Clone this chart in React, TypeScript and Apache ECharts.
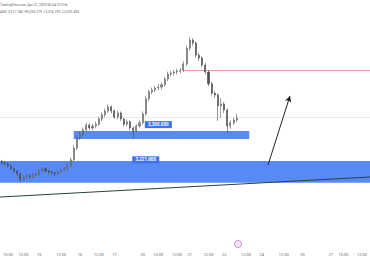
import React, { useEffect, useRef } from "react";
import * as echarts from "echarts";

// OHLC rows: [open, close, low, high]
const candles: number[][] = [
  [3243, 3240, 3236, 3247], [3240, 3238, 3233, 3244], [3238, 3234, 3230, 3241], [3234, 3228, 3225, 3237],
  [3228, 3223, 3219, 3231], [3223, 3217, 3212, 3226], [3217, 3204, 3199, 3219], [3204, 3211, 3201, 3214],
  [3211, 3213, 3207, 3217], [3213, 3211, 3206, 3216], [3211, 3215, 3208, 3219], [3215, 3215, 3210, 3220],
  [3215, 3223, 3213, 3227], [3223, 3228, 3220, 3232], [3228, 3223, 3219, 3231], [3223, 3221, 3216, 3226],
  [3221, 3219, 3214, 3224], [3219, 3217, 3212, 3222], [3217, 3221, 3214, 3225], [3221, 3225, 3218, 3229],
  [3225, 3228, 3222, 3232], [3228, 3234, 3225, 3239], [3234, 3247, 3231, 3252], [3247, 3272, 3244, 3278],
  [3272, 3294, 3268, 3299], [3294, 3302, 3289, 3308], [3302, 3311, 3297, 3316], [3311, 3321, 3306, 3326],
  [3321, 3315, 3311, 3325], [3315, 3319, 3310, 3324], [3319, 3323, 3314, 3329], [3323, 3334, 3319, 3339],
  [3334, 3343, 3329, 3348], [3343, 3351, 3338, 3356], [3351, 3360, 3347, 3365], [3360, 3351, 3346, 3363],
  [3351, 3338, 3334, 3355], [3338, 3347, 3333, 3352], [3347, 3334, 3330, 3350], [3334, 3323, 3318, 3337],
  [3323, 3328, 3318, 3333], [3328, 3315, 3310, 3331], [3315, 3309, 3293, 3318], [3309, 3319, 3305, 3323],
  [3319, 3326, 3315, 3331], [3326, 3345, 3322, 3350], [3345, 3377, 3341, 3383], [3377, 3392, 3372, 3397],
  [3392, 3396, 3387, 3401], [3396, 3400, 3391, 3405], [3400, 3402, 3395, 3408], [3402, 3407, 3397, 3412],
  [3407, 3419, 3403, 3424], [3419, 3430, 3415, 3435], [3430, 3432, 3425, 3437], [3432, 3434, 3427, 3439],
  [3434, 3436, 3429, 3441], [3436, 3438, 3431, 3443], [3438, 3451, 3434, 3457], [3451, 3485, 3447, 3490],
  [3485, 3502, 3480, 3508], [3502, 3496, 3490, 3506], [3496, 3470, 3465, 3499], [3470, 3464, 3458, 3475],
  [3464, 3449, 3444, 3468], [3449, 3434, 3429, 3453], [3434, 3409, 3404, 3438], [3409, 3389, 3384, 3413],
  [3389, 3385, 3379, 3393], [3385, 3362, 3330, 3389], [3362, 3366, 3336, 3379], [3366, 3353, 3347, 3370],
  [3353, 3319, 3304, 3357], [3319, 3326, 3313, 3331], [3326, 3332, 3321, 3337], [3332, 3336, 3327, 3345],
];

const slotCount = 117;

const tickIndex = [2, 7, 12, 19, 25, 31, 36, 45, 50, 56, 60, 66, 71, 78, 83, 90, 96, 105, 109, 115];
const tickText = ["15:00", "12:00", "15", "12:00", "16", "12:00", "17", "20", "15:00", "12:00", "21", "12:00", "22", "12:00", "24", "12:00", "25", "27", "15:00", "12:00"];

const upperZone = { from: 23, to: 79, low: 3291.5, high: 3308.5, label: "3,300.000", labelAt: 50, labelPrice: 3322 };
const lowerZone = { low: 3197.8, high: 3244.6, label: "3,221.000", labelAt: 46, labelPrice: 3247 };
const resistanceLevel = { from: 58, price: 3438 };
const lastPriceLevel = 3338;
const trendLine = { from: [0, 3167.6], to: [116, 3210.3] };
const arrowLine = { from: [85, 3236], to: [92, 3383] };

const headerLine1 = "TradingView.com, Apr 22, 2025 06:54 UTC+4";
const headerLine2 = "4SH  3,317.740  H3,336.279  L3,316.790  C3,323.430";

export default function App() {
  const ref = useRef<HTMLDivElement>(null);
  useEffect(() => {
    if (!ref.current) return;
    const chart = echarts.init(ref.current, undefined, { renderer: "svg" });
    const cats = Array.from({ length: slotCount }, (_, i) => String(i));
    const data = cats.map((_, i) => (i < candles.length ? candles[i] : "-"));
    const blue = "#4f84f4";
    chart.setOption({
      animation: false,
      backgroundColor: "#ffffff",
      grid: { left: 0, right: 0, top: 20, bottom: 30 },
      xAxis: {
        type: "category",
        data: cats,
        axisLine: { show: false },
        axisTick: { show: false },
        splitLine: { show: false },
        axisLabel: {
          interval: (idx: number) => tickIndex.includes(idx),
          formatter: (_v: string, idx: number) => {
            const k = tickIndex.indexOf(idx);
            return k >= 0 ? tickText[k] : "";
          },
          color: "#6a6a6a",
          fontSize: 4,
          margin: 12,
          fontFamily: "Roboto",
        },
      },
      yAxis: { type: "value", min: 3076, max: 3545, show: false, splitLine: { show: false } },
      series: [
        {
          type: "candlestick",
          data,
          barMaxWidth: 1.6,
          z: 5,
          itemStyle: { color: "#9a9a9a", color0: "#4a4a4a", borderColor: "#5a5a5a", borderColor0: "#4a4a4a", borderWidth: 0.6 },
          markArea: {
            silent: true,
            itemStyle: { color: blue, opacity: 0.95 },
            data: [
              [{ xAxis: upperZone.from, yAxis: upperZone.low }, { xAxis: upperZone.to, yAxis: upperZone.high }],
              [{ x: 0, yAxis: lowerZone.low }, { x: 370, yAxis: lowerZone.high }],
            ],
          },
          markLine: {
            silent: true,
            symbol: ["none", "none"],
            label: { show: false },
            data: [
              [
                { coord: [String(resistanceLevel.from), resistanceLevel.price], lineStyle: { color: "#e99aa2", width: 1, type: "solid" } },
                { x: 370, yAxis: resistanceLevel.price },
              ],
              [
                { x: 0, yAxis: lastPriceLevel, lineStyle: { color: "#e6e6e6", width: 0.8, type: "solid" } },
                { x: 370, yAxis: lastPriceLevel },
              ],
              [
                { x: 0, coord: [String(trendLine.from[0]), trendLine.from[1]], lineStyle: { color: "#2c4236", width: 1, type: "solid" } },
                { x: 370, coord: [String(trendLine.to[0]), trendLine.to[1]] },
              ],
              [
                { coord: [String(arrowLine.from[0]), arrowLine.from[1]], symbol: "none", lineStyle: { color: "#222222", width: 1, type: "solid" } },
                { coord: [String(arrowLine.to[0]), arrowLine.to[1]], symbol: "arrow", symbolSize: [5, 6] },
              ],
            ],
          },
          markPoint: {
            silent: true,
            symbol: "rect",
            symbolSize: [27, 7],
            itemStyle: { color: "#3d72e8" },
            label: { show: true, color: "#ffffff", fontSize: 4.5, fontFamily: "Roboto", fontWeight: "bold" },
            data: [
              { coord: [String(upperZone.labelAt), upperZone.labelPrice], value: upperZone.label, label: { formatter: upperZone.label } },
              { coord: [String(lowerZone.labelAt), lowerZone.labelPrice], value: lowerZone.label, label: { formatter: lowerZone.label } },
            ],
          },
        },
      ],
      graphic: [
        { type: "text", left: 0, top: 3, style: { text: headerLine1, fill: "#666", fontSize: 3.4, fontFamily: "Roboto" } },
        { type: "text", left: 0, top: 10, style: { text: headerLine2, fill: "#666", fontSize: 3.4, fontFamily: "Roboto" } },
        { type: "circle", shape: { cx: 238, cy: 244, r: 3.5 }, style: { fill: "#fbeafb", stroke: "#c466c4", lineWidth: 0.8 } },
        { type: "text", x: 238, y: 244, style: { text: "!", fill: "#c466c4", fontSize: 4, align: "center", verticalAlign: "middle" } },
      ],
    });
    return () => chart.dispose();
  }, []);
  return <div ref={ref} style={{ width: 370, height: 270, position: "absolute", left: 0, top: 0 }} />;
}
